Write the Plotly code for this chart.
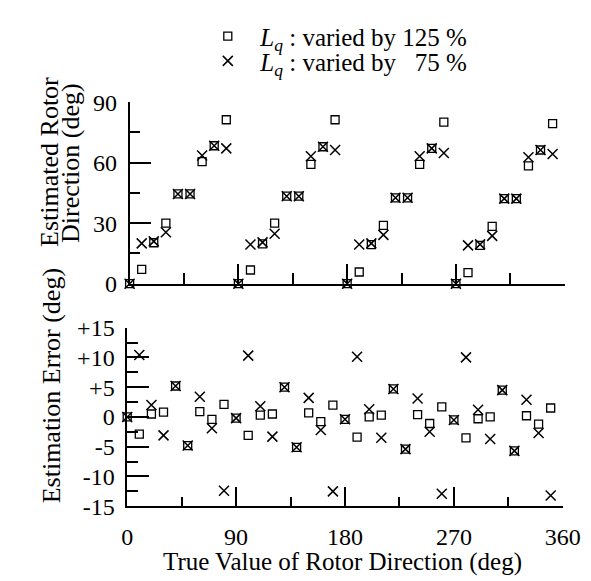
import plotly.graph_objects as go

# ---------------- data ----------------
x_true = [0, 10, 20, 30, 40, 50, 60, 70, 80,
          90, 100, 110, 120, 130, 140, 150, 160, 170,
          180, 190, 200, 210, 220, 230, 240, 250, 260,
          270, 280, 290, 300, 310, 320, 330, 340, 350]

# estimated rotor direction (deg), upper panel
est_125 = [0, 7.1, 20.3, 30.0, 44.5, 44.5, 60.5, 68.4, 81.3,
           0, 6.8, 19.7, 30.0, 43.4, 43.4, 59.2, 67.9, 81.3,
           0, 5.8, 19.4, 28.9, 42.6, 42.6, 59.2, 67.1, 80.1,
           0, 5.5, 19.0, 28.4, 42.2, 42.2, 58.4, 66.3, 79.4]
est_75 = [0, 20.0, 21.0, 25.5, 44.5, 44.5, 63.6, 68.4, 67.1,
          0, 19.4, 20.5, 24.8, 43.4, 43.4, 63.2, 67.9, 66.3,
          0, 19.4, 20.0, 24.2, 42.6, 42.6, 63.2, 67.1, 64.8,
          0, 19.0, 19.5, 23.7, 42.2, 42.2, 62.7, 66.3, 64.3]

# estimation error (deg), lower panel
err_125 = [0, -2.9, 0.5, 0.8, 5.2, -4.8, 0.9, -0.4, 2.1,
           -0.2, -3.1, 0.3, 0.5, 5.0, -5.1, 0.7, -0.8, 2.0,
           -0.4, -3.4, 0.0, 0.3, 4.7, -5.4, 0.4, -1.1, 1.7,
           -0.5, -3.5, -0.3, 0.0, 4.5, -5.7, 0.2, -1.2, 1.5]
err_75 = [0, 10.4, 2.0, -3.1, 5.2, -4.8, 3.4, -1.9, -12.4,
          -0.2, 10.3, 1.8, -3.3, 5.0, -5.1, 3.2, -2.2, -12.5,
          -0.4, 10.1, 1.3, -3.5, 4.7, -5.4, 3.1, -2.5, -12.9,
          -0.5, 10.0, 1.2, -3.7, 4.5, -5.7, 2.9, -2.7, -13.2]

x_ticks = [0, 90, 180, 270, 360]
x_tick_labels = ["0", "90", "180", "270", "360"]
top_ticks = [0, 30, 60, 90]
top_tick_labels = ["0", "30", "60", "90"]
err_ticks = [-15, -10, -5, 0, 5, 10, 15]
err_tick_labels = ["-15", "-10", "-5", "0", "+5", "+10", "+15"]

name_125 = "\u00a0\u00a0<i>L<sub>q</sub></i> : varied by 125 %"
name_75 = "\u00a0\u00a0<i>L<sub>q</sub></i> : varied by \u00a0 75 %"

# ---------------- styling ----------------
W, H = 591, 581
FONT = "Liberation Serif, Times New Roman, serif"
sq = dict(symbol="square-open", size=8, color="black", line=dict(width=1.3, color="black"))
xx = dict(symbol="x-thin-open", size=10, color="black", line=dict(width=1.5, color="black"))

fig = go.Figure()
fig.add_trace(go.Scatter(x=x_true, y=est_125, mode="markers", marker=sq, name=name_125,
                         xaxis="x", yaxis="y", cliponaxis=False, legend="legend"))
fig.add_trace(go.Scatter(x=x_true, y=est_75, mode="markers", marker=xx, name=name_75,
                         xaxis="x", yaxis="y", cliponaxis=False, legend="legend2"))
fig.add_trace(go.Scatter(x=x_true, y=err_125, mode="markers", marker=sq, showlegend=False,
                         xaxis="x2", yaxis="y2", cliponaxis=False))
fig.add_trace(go.Scatter(x=x_true, y=err_75, mode="markers", marker=xx, showlegend=False,
                         xaxis="x2", yaxis="y2", cliponaxis=False))

axis_common = dict(showline=True, linecolor="black", linewidth=1.5, showgrid=False, zeroline=False,
                   ticks="inside", tickcolor="black", tickwidth=1.5, mirror=False,
                   tickfont=dict(family=FONT, size=24, color="black"))

def px(v):
    return v / W

def py(v):
    return 1 - v / H

fig.update_layout(
    width=W, height=H,
    margin=dict(l=0, r=0, t=0, b=0),
    paper_bgcolor="white", plot_bgcolor="white",
    font=dict(family=FONT, color="black"),
    xaxis=dict(axis_common, domain=[px(120.5), px(574)], anchor="y", range=[0, 360],
               tickmode="array", tickvals=[90, 180, 270], ticklen=20, showticklabels=False,
               minor=dict(tickvals=[45, 135, 225, 315, 360], ticks="inside", ticklen=11,
                          tickwidth=1.5, tickcolor="black")),
    yaxis=dict(axis_common, domain=[py(275), py(85)], anchor="x", range=[0, 90],
               tickmode="array", tickvals=top_ticks, ticktext=top_tick_labels, ticklen=22,
               ticklabelstandoff=6,
               minor=dict(tickvals=[15, 45, 75], ticks="inside", ticklen=11,
                          tickwidth=1.5, tickcolor="black")),
    xaxis2=dict(axis_common, domain=[px(118), px(572)], anchor="y2", range=[0, 360],
                tickmode="array", tickvals=x_ticks, ticktext=x_tick_labels, ticklen=20,
                ticklabelstandoff=8,
                minor=dict(tickvals=[45, 135, 225, 315], ticks="inside", ticklen=10,
                           tickwidth=1.5, tickcolor="black")),
    yaxis2=dict(axis_common, domain=[py(508), py(321)], anchor="x2", range=[-15, 15],
                tickmode="array", tickvals=err_ticks, ticktext=err_tick_labels, ticklen=22,
                ticklabelstandoff=6,
                minor=dict(tickvals=[-12.5, -7.5, -2.5, 2.5, 7.5, 12.5], ticks="inside",
                           ticklen=11, tickwidth=1.5, tickcolor="black")),
    legend=dict(x=px(202), y=py(16), xanchor="left", yanchor="middle",
                font=dict(family=FONT, size=25, color="black"), bgcolor="rgba(0,0,0,0)"),
    legend2=dict(x=px(202), y=py(42), xanchor="left", yanchor="middle",
                 font=dict(family=FONT, size=25, color="black"), bgcolor="rgba(0,0,0,0)"),
    showlegend=True,
)

ann_font = dict(family=FONT, size=26, color="black")
fig.add_annotation(text="Estimated Rotor", x=px(37), y=py(147), xref="paper", yref="paper",
                   textangle=-90, showarrow=False, font=ann_font, xanchor="center", yanchor="middle")
fig.add_annotation(text="Direction (deg)", x=px(59), y=py(149), xref="paper", yref="paper",
                   textangle=-90, showarrow=False, font=ann_font, xanchor="center", yanchor="middle")
fig.add_annotation(text="Estimation Error (deg)", x=px(39), y=py(382), xref="paper", yref="paper",
                   textangle=-90, showarrow=False, font=ann_font, xanchor="center", yanchor="middle")
fig.add_annotation(text="True Value of Rotor Direction (deg)", x=px(342), y=py(566),
                   xref="paper", yref="paper", showarrow=False,
                   font=dict(family=FONT, size=25, color="black"), xanchor="center", yanchor="middle")

fig.write_html("out.html")
